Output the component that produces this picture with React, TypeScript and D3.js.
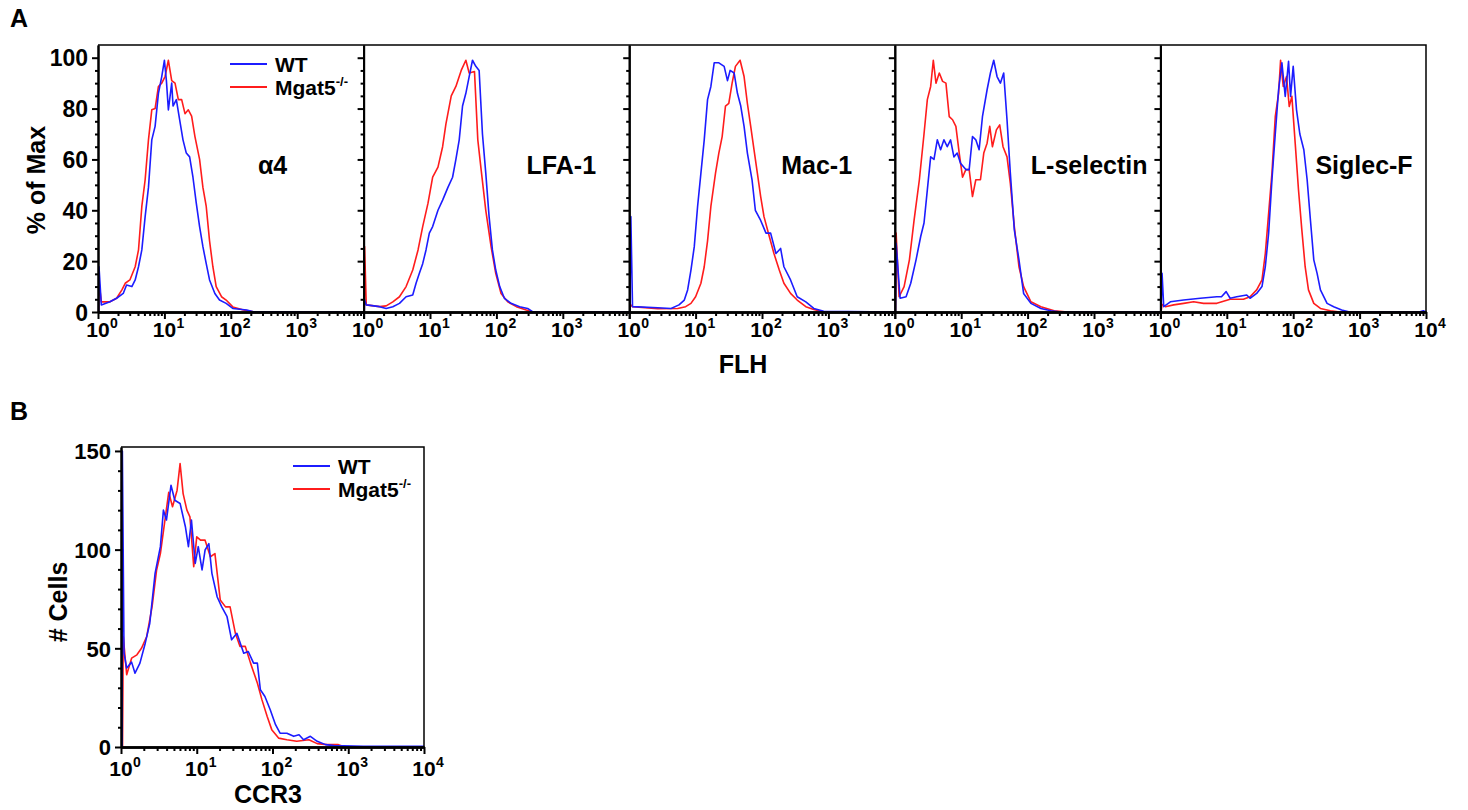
import React, { useEffect, useRef } from 'react'
import * as d3 from 'd3'

type Pt = [number, number] // [log10 intensity, value]

const markers = ['α4', 'LFA-1', 'Mac-1', 'L-selectin', 'Siglec-F']
const seriesNames = ['WT', 'Mgat5']
const pctTicks = [0, 20, 40, 60, 80, 100]
const cellTicks = [0, 50, 100, 150]
const decades = [0, 1, 2, 3, 4]

// panel A, % of max, WT (blue) and Mgat5-/- (red)
const wtA4: Pt[] = [[0.01,0],[0.015,17.8],[0.05,2.8],[0.18,4],[0.28,5.4],[0.38,7.3],[0.43,10.6],[0.51,10],[0.56,12.6],[0.61,17.8],[0.66,24.4],[0.71,37.5],[0.76,49],[0.81,67.7],[0.86,73],[0.91,86],[0.96,92.6],[1.0,99],[1.03,91],[1.06,79.5],[1.11,90],[1.13,81],[1.18,83.5],[1.23,75.6],[1.28,67.7],[1.33,62.5],[1.38,61],[1.43,53],[1.48,42.8],[1.53,33.6],[1.58,25.7],[1.63,19],[1.68,12.6],[1.76,7.3],[1.83,4.7],[1.93,3.4],[2.03,1.4],[2.24,0.8],[2.34,0.1],[4,0]]
const koA4: Pt[] = [[0.01,0],[0.015,12],[0.05,4],[0.18,4],[0.28,5.4],[0.36,8.7],[0.41,11.3],[0.48,12.6],[0.56,17.8],[0.61,24.4],[0.66,41.5],[0.71,52],[0.76,67.7],[0.81,79.5],[0.86,80],[0.91,88.7],[0.96,90],[1.01,92.6],[1.06,99],[1.11,91],[1.16,90],[1.21,83.5],[1.26,83.5],[1.31,78],[1.36,79.5],[1.41,77],[1.46,69],[1.53,60],[1.58,49],[1.63,41.5],[1.68,28],[1.73,17.8],[1.78,10],[1.86,6],[1.93,4.7],[2.03,2],[2.19,0.8],[2.34,0.1],[4,0]]
const wtLfa: Pt[] = [[0.01,0],[0.012,5],[0.04,2.8],[0.24,2.1],[0.34,1.4],[0.44,2.1],[0.54,3.4],[0.64,6],[0.74,6.7],[0.79,11.3],[0.84,15.2],[0.89,19],[0.94,24.4],[0.99,31],[1.04,33.6],[1.12,40],[1.19,44],[1.27,49],[1.34,53],[1.39,60],[1.44,67.7],[1.49,81],[1.54,86],[1.59,92.6],[1.64,99],[1.69,96.6],[1.74,95],[1.79,70],[1.84,54.6],[1.89,37.5],[1.94,24.4],[1.99,16.5],[2.05,10],[2.12,5.4],[2.22,3.4],[2.35,2.1],[2.47,1.4],[2.55,0],[4,0]]
const koLfa: Pt[] = [[0.01,0],[0.015,25.7],[0.04,2.8],[0.24,2.1],[0.34,2.4],[0.44,4],[0.54,6],[0.64,10],[0.74,16.5],[0.82,24.4],[0.89,33.6],[0.97,42.8],[1.04,53],[1.12,57],[1.19,65],[1.24,74],[1.32,85],[1.39,88.7],[1.47,95],[1.54,99],[1.59,94],[1.67,94.6],[1.72,67.7],[1.77,56],[1.84,40],[1.92,25.7],[1.99,15.2],[2.07,7.3],[2.17,4],[2.3,2.1],[2.45,0.8],[2.55,0],[4,0]]
const wtMac: Pt[] = [[0.01,0],[0.025,37.5],[0.05,2.1],[0.43,1.7],[0.63,1.4],[0.75,2.8],[0.83,4.7],[0.88,8.7],[0.93,16.5],[0.98,25.7],[1.03,41.5],[1.08,54.6],[1.13,67.7],[1.18,83.5],[1.23,88.7],[1.28,98],[1.35,98],[1.43,96.6],[1.48,91],[1.52,95],[1.58,94],[1.63,86],[1.68,81],[1.73,73],[1.78,62.5],[1.85,52],[1.9,40],[1.98,36],[2.06,31],[2.13,31],[2.21,23],[2.28,25],[2.33,17.8],[2.43,12.6],[2.53,6],[2.66,4],[2.78,1.4],[2.93,0.3],[4,0]]
const koMac: Pt[] = [[0.01,0],[0.015,3],[0.05,2.1],[0.43,1.3],[0.73,1.4],[0.85,2.1],[0.93,3.4],[1.0,6],[1.08,11.3],[1.13,17.8],[1.18,28],[1.23,41.5],[1.3,54.6],[1.35,62.5],[1.4,69],[1.45,81],[1.5,82],[1.55,90],[1.6,96.6],[1.67,99],[1.73,92.6],[1.78,82],[1.83,73],[1.88,63.8],[1.93,54.6],[1.98,45.4],[2.03,37.5],[2.11,29.7],[2.18,23],[2.26,16.5],[2.33,11.3],[2.43,7.3],[2.53,4.7],[2.66,2.1],[2.78,1],[2.9,0.2],[4,0]]
const wtLsel: Pt[] = [[0.01,0],[0.02,27],[0.08,5.4],[0.17,6],[0.24,11.3],[0.32,20.5],[0.39,29.7],[0.44,35],[0.49,48],[0.54,61],[0.59,60],[0.64,67.7],[0.69,63.8],[0.74,67.7],[0.79,65],[0.84,67.7],[0.89,61],[0.94,62.5],[0.99,58.5],[1.07,56],[1.12,56],[1.17,69],[1.22,67.7],[1.27,63.8],[1.32,76.8],[1.39,87.4],[1.44,94],[1.49,99],[1.54,92.6],[1.59,90],[1.64,94],[1.69,75.6],[1.74,54.6],[1.8,32.3],[1.87,20.5],[1.94,7.3],[2.05,3.4],[2.2,1.4],[2.35,0.5],[2.5,0],[4,0]]
const koLsel: Pt[] = [[0.01,0],[0.02,31],[0.065,6],[0.14,10],[0.22,20.5],[0.29,36],[0.37,52],[0.44,70],[0.49,83.5],[0.54,88.7],[0.58,99],[0.62,90],[0.67,94],[0.72,90.7],[0.77,90],[0.82,76.8],[0.87,75.6],[0.92,73],[0.97,62.5],[1.02,53],[1.07,56],[1.12,56],[1.17,45.4],[1.22,52],[1.29,52],[1.34,62.5],[1.39,66.4],[1.43,73],[1.47,65],[1.53,71.6],[1.58,73.6],[1.63,65],[1.69,61],[1.74,50.6],[1.8,33.6],[1.87,17.8],[1.94,10],[2.05,4],[2.2,2.1],[2.4,0.5],[2.6,0],[4,0]]
const wtSig: Pt[] = [[0.01,0],[0.025,15.2],[0.05,2.1],[0.15,4],[0.35,4.7],[0.6,5.4],[0.85,6],[0.92,6],[0.99,8],[1.05,5.4],[1.15,6],[1.3,6.7],[1.35,5.4],[1.45,7.3],[1.53,10],[1.58,17.8],[1.63,31],[1.68,52],[1.73,70],[1.78,87.4],[1.83,98],[1.88,84.8],[1.93,98.6],[1.96,84.8],[2.0,96.6],[2.05,79.5],[2.1,70],[2.16,63.8],[2.21,52],[2.26,36],[2.31,20.5],[2.36,15.2],[2.41,8.7],[2.51,3.4],[2.61,2.1],[2.73,0.8],[2.85,0],[3.9,0],[3.96,0.5],[4,0]]
const koSig: Pt[] = [[0.01,0],[0.025,3],[0.075,2.1],[0.2,2.8],[0.35,3.4],[0.5,4],[0.65,3.4],[0.85,3.4],[1.05,5],[1.25,5],[1.35,6],[1.45,8.7],[1.53,12.6],[1.58,23],[1.63,38.8],[1.68,54.6],[1.73,76.8],[1.78,86],[1.81,99],[1.85,88.7],[1.9,92.6],[1.94,80.8],[1.98,84.8],[2.03,66.4],[2.08,48],[2.13,32.3],[2.18,17.8],[2.23,8.7],[2.31,3.4],[2.41,1.4],[2.56,0.5],[2.7,0],[4,0]]

// panel B, # cells
const wtCcr3: Pt[] = [[0.015,0],[0.018,150],[0.04,47.5],[0.075,40],[0.14,43],[0.185,37.4],[0.25,42.5],[0.32,52.6],[0.38,62.7],[0.45,88],[0.52,101.5],[0.56,120],[0.6,115],[0.66,132.6],[0.71,125],[0.78,123.4],[0.85,111.6],[0.89,101.5],[0.93,115],[0.98,93],[1.02,101.5],[1.07,89.7],[1.11,99.8],[1.16,103],[1.2,88],[1.27,76],[1.33,71],[1.4,66],[1.46,54.3],[1.53,57.6],[1.62,47.5],[1.68,48.4],[1.75,42.5],[1.8,42.5],[1.84,29],[1.9,25.6],[1.97,18.9],[2.04,11.3],[2.1,7],[2.19,7],[2.28,5.4],[2.35,6.2],[2.41,3.7],[2.5,5.4],[2.59,2.9],[2.7,1.2],[2.81,0.7],[3.2,0.4],[4,0.4]]
const koCcr3: Pt[] = [[0.02,0],[0.03,56],[0.075,36.6],[0.14,45],[0.21,46.7],[0.27,50],[0.34,56],[0.41,71],[0.47,89.7],[0.52,98],[0.58,115],[0.63,129],[0.68,121.7],[0.74,130],[0.78,143.6],[0.82,128.4],[0.87,120],[0.91,116.6],[0.96,91.4],[1.0,106.5],[1.05,104.8],[1.11,104.8],[1.18,96.4],[1.24,98],[1.31,74.5],[1.38,71],[1.44,71],[1.51,57.6],[1.57,51],[1.64,51],[1.71,42.5],[1.8,32.4],[1.86,24],[1.93,15.5],[1.99,8.8],[2.08,4.5],[2.19,3.7],[2.32,2.9],[2.48,3.7],[2.59,1.7],[2.72,1.2],[2.87,1.2],[2.94,0.2]]

const wtPanels = [wtA4, wtLfa, wtMac, wtLsel, wtSig]
const koPanels = [koA4, koLfa, koMac, koLsel, koSig]

const FONT = 'Arial, "Liberation Sans", Helvetica, sans-serif'
const BLUE = '#1c1cff'
const RED = '#ff1c1c'
const labelOffsets = [160, 163, 152, 136, 155]

export default function App() {
  const ref = useRef<SVGSVGElement>(null)

  useEffect(() => {
    const svg = d3.select(ref.current)
    svg.selectAll('*').remove()
    svg.append('rect').attr('width', 1468).attr('height', 810).attr('fill', '#fff')

    const pow = (e: number) => Math.pow(10, e)
    const minorVals = d3.range(0, 4).flatMap(k => d3.range(2, 10).map(m => m * pow(k)))

    const txt = (x: number, y: number, s: string, size: number, anchor = 'start') =>
      svg.append('text').attr('x', x).attr('y', y).attr('font-family', FONT)
        .attr('font-weight', 'bold').attr('font-size', size).attr('text-anchor', anchor).text(s)

    // log x axis with 10^n labels
    function xAxis(x: d3.ScaleLogarithmic<number, number>, y0: number, labels: number[], base: number) {
      const gMin = svg.append('g').attr('transform', `translate(0,${y0})`)
        .call(d3.axisBottom(x).tickValues(minorVals).tickSize(4).tickSizeOuter(0).tickFormat(() => ''))
      const gMaj = svg.append('g').attr('transform', `translate(0,${y0})`)
        .call(d3.axisBottom(x).tickValues(decades.map(pow)).tickSize(7).tickSizeOuter(0).tickFormat(() => ''))
      for (const g of [gMin, gMaj]) {
        g.select('.domain').attr('stroke', '#000').attr('stroke-width', 2.5)
        g.selectAll('.tick line').attr('stroke', '#000').attr('stroke-width', 2)
      }
      labels.forEach(e => {
        const px = x(pow(e))
        txt(px, base, '10', 21, 'middle')
        txt(px + 12, base - 9, String(e), 14)
      })
    }

    function yAxis(y: d3.ScaleLinear<number, number>, x0: number, majors: number[], step: number, showLabels: boolean, size: number) {
      const [lo, hi] = [majors[0], majors[majors.length - 1]]
      const minors = d3.range(lo, hi + 0.001, step).filter(v => !majors.includes(v))
      const gMin = svg.append('g').attr('transform', `translate(${x0},0)`)
        .call(d3.axisLeft(y).tickValues(minors).tickSize(3).tickSizeOuter(0).tickFormat(() => ''))
      const gMaj = svg.append('g').attr('transform', `translate(${x0},0)`)
        .call(d3.axisLeft(y).tickValues(majors).tickSize(6).tickSizeOuter(0).tickPadding(4)
          .tickFormat(v => (showLabels ? String(v) : '')))
      for (const g of [gMin, gMaj]) {
        g.select('.domain').attr('stroke', '#000').attr('stroke-width', 2)
        g.selectAll('.tick line').attr('stroke', '#000').attr('stroke-width', 2)
      }
      gMaj.selectAll('.tick text').attr('font-family', FONT).attr('font-weight', 'bold')
        .attr('font-size', size).attr('fill', '#000').attr('dy', '0.36em')
    }

    const line = (x: d3.ScaleLogarithmic<number, number>, y: d3.ScaleLinear<number, number>) =>
      d3.line<Pt>().x(d => x(pow(d[0]))).y(d => y(d[1]))

    function legend(x0: number, y0: number) {
      ;[BLUE, RED].forEach((c, i) => {
        svg.append('line').attr('x1', x0).attr('x2', x0 + 37).attr('y1', y0 + i * 23).attr('y2', y0 + i * 23)
          .attr('stroke', c).attr('stroke-width', 2.2)
      })
      txt(x0 + 45, y0 + 8, seriesNames[0], 21)
      const t = txt(x0 + 45, y0 + 31, seriesNames[1], 21)
      t.append('tspan').attr('dy', -9).attr('font-size', 13).text('-/-')
    }

    const curve = (d: string, c: string) =>
      svg.append('path').attr('d', d).attr('fill', 'none').attr('stroke', c)
        .attr('stroke-width', 1.6).attr('stroke-linejoin', 'round')

    // ---------- panel A ----------
    const aLeft = 98
    const aW = 265.6
    const aTop = 45
    const aBottom = 312
    const yA = d3.scaleLinear().domain([0, 105]).range([aBottom, aTop])

    markers.forEach((m, i) => {
      const left = aLeft + i * aW
      const x = d3.scaleLog().domain([1, 1e4]).range([left, left + aW])
      const ln = line(x, yA)
      curve(ln(koPanels[i]) as string, RED)
      curve(ln(wtPanels[i]) as string, BLUE)
      xAxis(x, aBottom, i === markers.length - 1 ? decades : decades.slice(0, 4), 337)
      yAxis(yA, left, pctTicks, 5, i === 0, 23)
      txt(left + labelOffsets[i], 174, m, 25)
    })
    const aRight = aLeft + aW * markers.length
    svg.append('path').attr('d', `M${aLeft},${aTop}H${aRight}V${aBottom}`)
      .attr('fill', 'none').attr('stroke', '#000').attr('stroke-width', 1.5)

    legend(230, 64)
    txt(10, 27, 'A', 25)
    txt(743, 373, 'FLH', 25, 'middle')
    svg.append('text').attr('transform', 'translate(45,180) rotate(-90)').attr('text-anchor', 'middle')
      .attr('font-family', FONT).attr('font-weight', 'bold').attr('font-size', 25).text('% of Max')

    // ---------- panel B ----------
    const bLeft = 121
    const bRight = 424
    const bTop = 447
    const bBottom = 747
    const xB = d3.scaleLog().domain([1, 1e4]).range([bLeft, bRight])
    const yB = d3.scaleLinear().domain([0, 152]).range([bBottom, bTop])
    const lnB = line(xB, yB)
    curve(lnB(koCcr3) as string, RED)
    curve(lnB(wtCcr3) as string, BLUE)
    svg.append('path').attr('d', `M${bLeft},${bTop}H${bRight}V${bBottom}`)
      .attr('fill', 'none').attr('stroke', '#000').attr('stroke-width', 1.5)
    xAxis(xB, bBottom, decades, 776)
    yAxis(yB, bLeft, cellTicks, 10, true, 22)
    legend(293, 466)
    txt(10, 420, 'B', 25)
    txt(268, 803, 'CCR3', 25, 'middle')
    svg.append('text').attr('transform', 'translate(67,602) rotate(-90)').attr('text-anchor', 'middle')
      .attr('font-family', FONT).attr('font-weight', 'bold').attr('font-size', 25).text('# Cells')
  }, [])

  return <svg ref={ref} width={1468} height={810} style={{ position: 'absolute', left: 0, top: 0 }} />
}
